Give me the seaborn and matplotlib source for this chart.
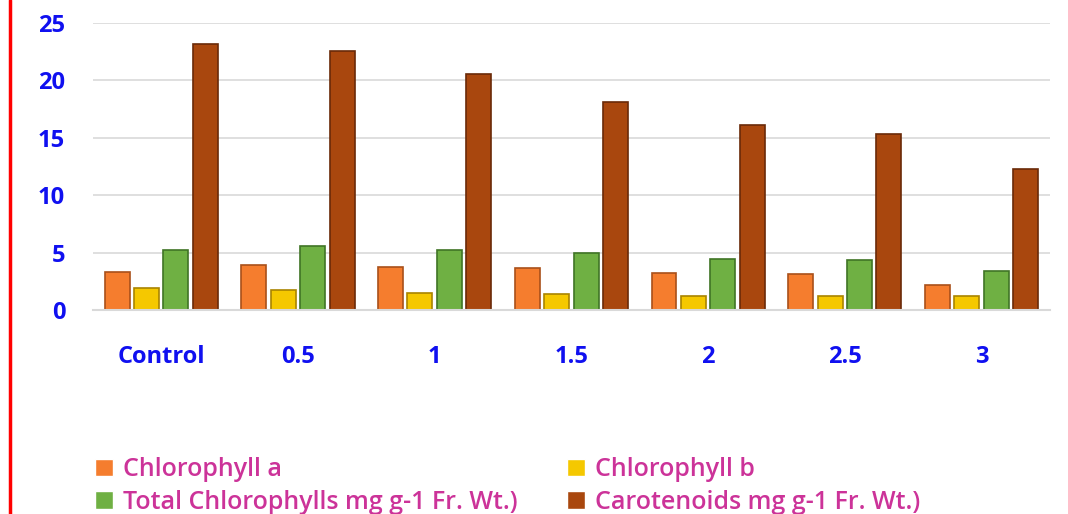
import matplotlib
matplotlib.use("Agg")
import matplotlib.pyplot as plt
import seaborn as sns
import pandas as pd

# dados
doses = ["Control", "0.5", "1", "1.5", "2", "2.5", "3"]
chl_a = [3.3, 3.9, 3.75, 3.65, 3.25, 3.1, 2.2]
chl_b = [1.9, 1.7, 1.5, 1.4, 1.22, 1.22, 1.2]
total_chl = [5.2, 5.6, 5.2, 4.95, 4.45, 4.37, 3.4]
carotenoids = [23.2, 22.6, 20.6, 18.1, 16.1, 15.3, 12.3]

series = ["Chlorophyll a", "Chlorophyll b",
          "Total Chlorophylls mg g-1 Fr. Wt.)", "Carotenoids mg g-1 Fr. Wt.)"]
cores = ["#F57D2E", "#F5C800", "#6FB043", "#A9470E"]
bordas = ["#A9501A", "#A98400", "#3F7425", "#6A2A08"]

df = pd.DataFrame({
    "dose": doses * 4,
    "valor": chl_a + chl_b + total_chl + carotenoids,
    "serie": [s for s in series for _ in doses],
})

sns.set_style("white")
plt.rcParams["font.family"] = ["Open Sans", "DejaVu Sans"]

fig = plt.figure(figsize=(10.68, 5.14), dpi=100)
ax = fig.add_axes([0.087, 0.397, 0.896, 0.558])

sns.barplot(data=df, x="dose", y="valor", hue="serie", hue_order=series,
            order=doses, palette=cores, saturation=1, width=0.86, gap=0.15,
            ax=ax, legend=True)

# bordas escuras das barras
for cont, borda in zip(ax.containers, bordas):
    for barra in cont:
        barra.set_edgecolor(borda)
        barra.set_linewidth(1.2)

ax.set_ylim(0, 25)
ax.set_xlim(-0.5, 6.5)
ax.set_yticks([0, 5, 10, 15, 20, 25])
ax.yaxis.grid(True, color="#D9D9D9", linewidth=1.2)
ax.set_axisbelow(True)
for lado in ["top", "right", "left"]:
    ax.spines[lado].set_visible(False)
ax.spines["bottom"].set_color("#D9D9D9")
ax.spines["bottom"].set_linewidth(1.5)
ax.set_xlabel("")
ax.set_ylabel("")
ax.tick_params(axis="y", length=0, pad=20, labelsize=17, labelcolor="#1010F0")
ax.tick_params(axis="x", length=0, pad=25, labelsize=17, labelcolor="#1010F0")
for t in ax.get_xticklabels() + ax.get_yticklabels():
    t.set_fontweight("bold")

# legenda em duas colunas, preenchida por linha
handles, labels = ax.get_legend_handles_labels()
ax.get_legend().remove()
ordem = [0, 2, 1, 3]
fig.legend([handles[i] for i in ordem], [labels[i] for i in ordem], ncol=2,
           loc="lower left", bbox_to_anchor=(0.068, -0.045), frameon=False,
           labelcolor="#CC3399", handlelength=0.7, handleheight=0.7,
           handletextpad=0.4, columnspacing=2.0, labelspacing=0.3,
           prop={"weight": "semibold", "size": 18})

# linha vermelha na borda esquerda
fig.add_artist(plt.Line2D([0.0095, 0.0095], [0, 1], color="red", linewidth=2.5,
                          transform=fig.transFigure))

fig.savefig("out.png", dpi=100, facecolor="white")
